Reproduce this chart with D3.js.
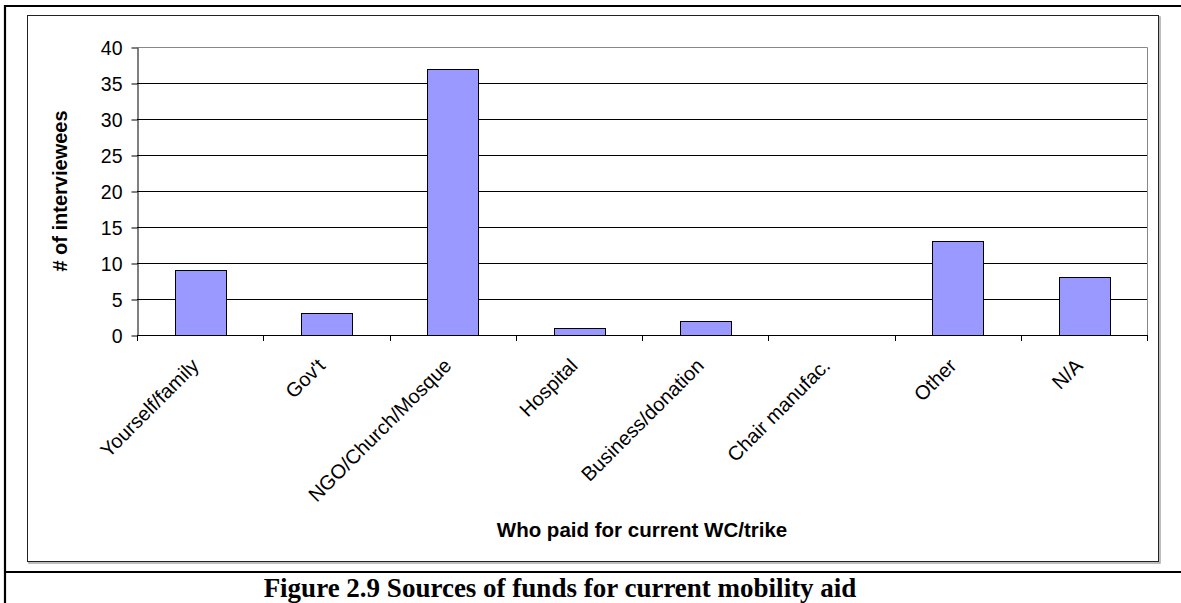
<!DOCTYPE html>
<html>
<head>
<meta charset="utf-8">
<script src="https://cdn.jsdelivr.net/npm/d3@7"></script>
<style>
  body { margin: 0; background: #fff; }
  svg { display: block; }
</style>
</head>
<body>
<svg id="chart" width="1181" height="603"></svg>
<script>
// Who paid for the current wheelchair / trike
const categories = ["Yourself/family", "Gov't", "NGO/Church/Mosque", "Hospital",
                    "Business/donation", "Chair manufac.", "Other", "N/A"];
const counts = [9, 3, 37, 1, 2, 0, 13, 8];
const yTicks = [0, 5, 10, 15, 20, 25, 30, 35, 40];
const yTitle = "# of interviewees";
const xTitle = "Who paid for current WC/trike";
const caption = "Figure 2.9 Sources of funds for current mobility aid";

const rows = categories.map((c, i) => ({ cat: c, value: counts[i] }));

const svg = d3.select("#chart");
const SANS = "'Liberation Sans', Arial, sans-serif";
const SERIF = "'Liberation Serif', 'Times New Roman', serif";

const plot = { left: 137, right: 1147, top: 47, bottom: 335 };

const x = d3.scaleBand()
  .domain(categories)
  .range([plot.left, plot.right])
  .paddingInner(0.6)
  .paddingOuter(0.3);

const y = d3.scaleLinear()
  .domain([0, 40])
  .range([plot.bottom, plot.top]);

// ---- page frame (table rules) ----
const rule = (x1, y1, x2, y2) => svg.append("line")
  .attr("x1", x1).attr("y1", y1).attr("x2", x2).attr("y2", y2)
  .attr("stroke", "#000").attr("stroke-width", 2.2);
rule(4, 6, 1181, 6);
rule(5, 5, 5, 603);
rule(4, 572, 1181, 572);

// ---- chart area box with soft shadow ----
svg.append("rect")
  .attr("x", 29).attr("y", 17).attr("width", 1131).attr("height", 546)
  .attr("fill", "none").attr("stroke", "#a8a8a8").attr("stroke-width", 1.5);
svg.append("rect")
  .attr("x", 27.5).attr("y", 15.5).attr("width", 1131).attr("height", 546)
  .attr("fill", "#fff").attr("stroke", "#222").attr("stroke-width", 1);

// ---- gridlines ----
svg.append("g")
  .selectAll("line")
  .data(yTicks.filter(t => t > 0 && t < 40))
  .join("line")
  .attr("x1", plot.left).attr("x2", plot.right)
  .attr("y1", d => Math.round(y(d)) + 0.5).attr("y2", d => Math.round(y(d)) + 0.5)
  .attr("stroke", "#000").attr("stroke-width", 1);

// plot border (top and right) in grey
svg.append("path")
  .attr("d", `M${plot.left},${plot.top + 0.5}H${plot.right + 0.5}V${plot.bottom}`)
  .attr("fill", "none").attr("stroke", "#888").attr("stroke-width", 1);

// ---- bars ----
svg.append("g")
  .selectAll("rect")
  .data(rows.filter(d => d.value > 0))
  .join("rect")
  .attr("x", d => Math.round(x(d.cat)) + 0.5)
  .attr("y", d => Math.round(y(d.value)) + 0.5)
  .attr("width", Math.round(x.bandwidth()))
  .attr("height", d => Math.round(y(0)) - Math.round(y(d.value)))
  .attr("fill", "#9999ff")
  .attr("stroke", "#000")
  .attr("stroke-width", 1);

// ---- y axis ----
const yAxis = svg.append("g")
  .attr("transform", `translate(${plot.left + 0.5},0.5)`)
  .call(d3.axisLeft(y).tickValues(yTicks).tickSize(6).tickSizeOuter(0));
yAxis.select(".domain").attr("stroke", "#000");
yAxis.selectAll(".tick line").attr("stroke", "#000");
yAxis.selectAll(".tick text")
  .attr("x", -15).attr("dy", null).attr("y", 7)
  .attr("text-anchor", "end")
  .attr("fill", "#000")
  .style("font-family", SANS)
  .style("font-size", "19.5px");
// extend the y axis line down through the tick band
svg.append("line")
  .attr("x1", plot.left + 0.5).attr("x2", plot.left + 0.5)
  .attr("y1", plot.bottom).attr("y2", plot.bottom + 6)
  .attr("stroke", "#000");

// ---- x axis ----
svg.append("line")
  .attr("x1", plot.left).attr("x2", plot.right + 1)
  .attr("y1", plot.bottom + 0.5).attr("y2", plot.bottom + 0.5)
  .attr("stroke", "#000");

const gap = x.step() - x.bandwidth();
const bounds = categories.map(c => x(c) - gap / 2).slice(1).concat([plot.right]);
svg.append("g")
  .selectAll("line")
  .data(bounds)
  .join("line")
  .attr("x1", d => Math.round(d) + 0.5).attr("x2", d => Math.round(d) + 0.5)
  .attr("y1", plot.bottom).attr("y2", plot.bottom + 6)
  .attr("stroke", "#000");

// rotated category labels
svg.append("g")
  .selectAll("text")
  .data(categories)
  .join("text")
  .attr("transform", d => `translate(${x(d) + x.bandwidth() / 2},367) rotate(-45)`)
  .attr("text-anchor", "end")
  .attr("fill", "#000")
  .style("font-family", SANS)
  .style("font-size", "20px")
  .text(d => d);

// ---- axis titles ----
svg.append("text")
  .attr("transform", `translate(67,${(plot.top + plot.bottom) / 2}) rotate(-90)`)
  .attr("text-anchor", "middle")
  .attr("fill", "#000")
  .style("font-family", SANS)
  .style("font-size", "20px")
  .style("font-weight", "bold")
  .text(yTitle);

svg.append("text")
  .attr("transform", `translate(642,537)`)
  .attr("text-anchor", "middle")
  .attr("fill", "#000")
  .style("font-family", SANS)
  .style("font-size", "20.5px")
  .style("font-weight", "bold")
  .text(xTitle);

// ---- figure caption ----
svg.append("text")
  .attr("transform", `translate(560,597)`)
  .attr("text-anchor", "middle")
  .attr("fill", "#000")
  .style("font-family", SERIF)
  .style("font-size", "27px")
  .style("font-weight", "bold")
  .text(caption);
</script>
</body>
</html>
